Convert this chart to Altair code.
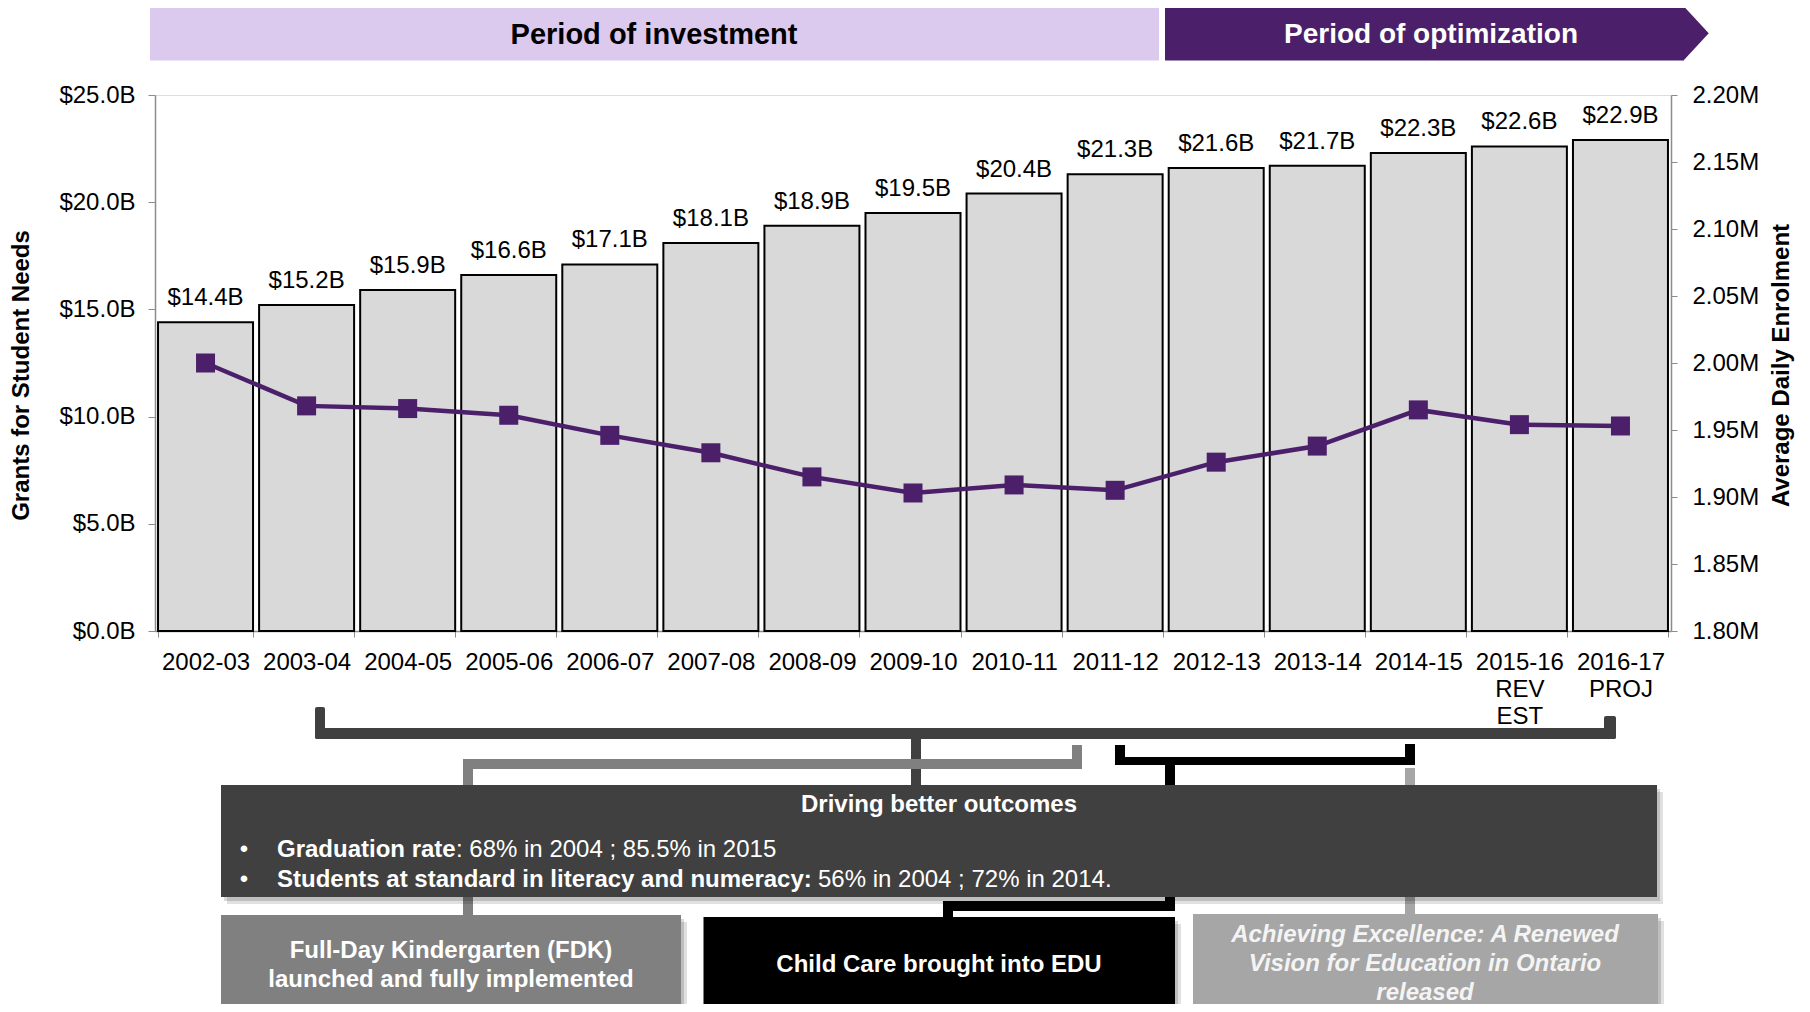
import altair as alt
import pandas as pd

# ---------------- data ----------------
years = ["2002-03", "2003-04", "2004-05", "2005-06", "2006-07", "2007-08",
         "2008-09", "2009-10", "2010-11", "2011-12", "2012-13", "2013-14",
         "2014-15", "2015-16 REV EST", "2016-17 PROJ"]
grants_b = [14.4, 15.2, 15.9, 16.6, 17.1, 18.1, 18.9, 19.5, 20.4, 21.3,
            21.6, 21.7, 22.3, 22.6, 22.9]
enrol_m = [2.000, 1.968, 1.966, 1.961, 1.946, 1.933, 1.915, 1.903, 1.909,
           1.905, 1.926, 1.938, 1.965, 1.954, 1.953]
left_ticks = [0, 5, 10, 15, 20, 25]
right_ticks = [1.80, 1.85, 1.90, 1.95, 2.00, 2.05, 2.10, 2.15, 2.20]

df = pd.DataFrame({"year": years, "grants": grants_b, "enrol": enrol_m})

FONT = "Liberation Sans"
PURPLE = "#4b1f6a"
LAVENDER = "#dcc9ee"
DARK = "#404040"
MID = "#808080"
LIGHT = "#a6a6a6"
AXIS_GRAY = "#8c8c8c"

W, H = 1516, 536

x_enc = alt.X("year:N", sort=years,
              scale=alt.Scale(paddingInner=0.06, paddingOuter=0.03),
              axis=alt.Axis(title=None, labelAngle=0,
                            labelExpr="split(datum.label, ' ')",
                            labelFontSize=24, labelColor="black",
                            labelLineHeight=27, tickBand="extent",
                            tickSize=6, labelPadding=13,
                            domainColor=AXIS_GRAY, tickColor=AXIS_GRAY,
                            domainWidth=1.5))

base = alt.Chart(df)

bars = base.mark_bar(fill="#d9d9d9", stroke="black", strokeWidth=2).encode(
    x=x_enc,
    y=alt.Y("grants:Q", scale=alt.Scale(domain=[0, 25], nice=False),
            axis=alt.Axis(values=left_ticks,
                          labelExpr="'$' + format(datum.value, '.1f') + 'B'",
                          title="Grants for Student Needs",
                          titleFontSize=24, titleFontWeight="bold",
                          titleColor="black", titleAngle=270,
                          titleX=-134, titleY=280, titleBaseline="middle",
                          titleAlign="center",
                          labelFontSize=24, labelColor="black",
                          tickSize=7, labelPadding=13,
                          domainColor=AXIS_GRAY, tickColor=AXIS_GRAY,
                          domainWidth=1.5, grid=False))
)

bar_labels = base.transform_calculate(
    lab="'$' + format(datum.grants, '.1f') + 'B'"
).mark_text(dy=-17, baseline="alphabetic", fontSize=24, color="black").encode(
    x=alt.X("year:N", sort=years),
    y=alt.Y("grants:Q"),
    text="lab:N",
)

y_right = alt.Y("enrol:Q", scale=alt.Scale(domain=[1.8, 2.2], nice=False),
                axis=alt.Axis(orient="right", values=right_ticks,
                              labelExpr="format(datum.value, '.2f') + 'M'",
                              title="Average Daily Enrolment",
                              titleFontSize=24, titleFontWeight="bold",
                              titleColor="black", titleAngle=270,
                              titleX=110, titleY=270, titleBaseline="middle",
                              titleAlign="center",
                              labelFontSize=24, labelColor="black",
                              tickSize=6, labelPadding=15,
                              domainColor=AXIS_GRAY, tickColor=AXIS_GRAY,
                              domainWidth=1.5, grid=False))

line = base.mark_line(color=PURPLE, strokeWidth=4.5).encode(
    x=alt.X("year:N", sort=years), y=y_right)
pts = base.mark_square(size=361, color=PURPLE, opacity=1).encode(
    x=alt.X("year:N", sort=years), y=alt.Y("enrol:Q"))

left = alt.layer(bars, bar_labels)
right = alt.layer(line, pts)

# ---------------- annotations (layout, pixel positions relative to plot) ----
one = pd.DataFrame({"k": [0]})


def rect(x1, x2, y1, y2, color, **kw):
    return alt.Chart(one).mark_rect(color=color, **kw).encode(
        x=alt.value(x1), x2=alt.value(x2), y=alt.value(y1), y2=alt.value(y2))


def label(txt, x, y, **kw):
    opts = dict(font=FONT, fontSize=24, align="center", baseline="middle")
    opts.update(kw)
    return alt.Chart(one).mark_text(text=txt, **opts).encode(
        x=alt.value(x), y=alt.value(y))


annots = []
# header banners
annots.append(rect(-5, 1004, -89, -34.5, LAVENDER))
annots.append(rect(1010, 1529, -89, -34.5, PURPLE))
annots.append(alt.Chart(one).mark_point(
    shape="M0,-1L0.926,0L0,1Z", filled=True, size=54.5 ** 2, fill=PURPLE,
    strokeWidth=0, opacity=1).encode(x=alt.value(1528.5), y=alt.value(-61.75)))
annots.append(label("Period of investment", 499, -60, fontSize=29,
                    fontWeight="bold", color="black"))
annots.append(label("Period of optimization", 1276, -60, fontSize=28,
                    fontWeight="bold", color="white"))

# dark bracket
annots.append(rect(160, 1461, 633, 644, DARK, cornerRadius=2))
annots.append(rect(160, 170, 612, 644, DARK, cornerRadius=2))
annots.append(rect(1449, 1461, 621, 644, DARK, cornerRadius=2))
annots.append(rect(756, 766, 640, 692, DARK))
# gray bracket
annots.append(rect(308, 927, 664, 674, MID))
annots.append(rect(917, 927, 650, 674, MID))
annots.append(rect(308, 318, 664, 822, MID))
# black bracket
annots.append(rect(960, 1260, 662, 670, "black"))
annots.append(rect(960, 970, 650, 670, "black"))
annots.append(rect(1250, 1260, 649, 670, "black"))
annots.append(rect(1010, 1020, 666, 816, "black"))
annots.append(rect(788, 1020, 806, 816, "black"))
annots.append(rect(788, 798, 806, 824, "black"))
# light gray stem
annots.append(rect(1250, 1260, 673, 821, LIGHT))

# boxes with soft shadows
for (x1, x2, y1, y2, c) in [(66, 1502, 690, 802, DARK),
                            (66, 526, 820, 930, MID),
                            (548.5, 1020, 822, 914, "black"),
                            (1038, 1503, 819, 930, LIGHT)]:
    annots.append(rect(x1 + 6, x2 + 6, y1 + 7, y2 + 7, "black", opacity=0.12))
    annots.append(rect(x1 + 3, x2 + 3, y1 + 4, y2 + 4, "black", opacity=0.15))
    annots.append(rect(x1, x2, y1, y2, c))

# box texts
annots.append(label("Driving better outcomes", 784, 710, fontWeight="bold",
                    color="white"))
annots.append(label("•", 89, 762, baseline="alphabetic", color="white"))
annots.append(label("•", 89, 792, baseline="alphabetic", color="white"))
annots.append(label("Graduation rate", 122, 762, baseline="alphabetic",
                    align="left", fontWeight="bold", color="white"))
annots.append(label(": 68% in 2004 ; 85.5% in 2015", 301, 762,
                    baseline="alphabetic", align="left", color="white"))
annots.append(label("Students at standard in literacy and numeracy:", 122, 792,
                    baseline="alphabetic", align="left", fontWeight="bold",
                    color="white"))
annots.append(label("56% in 2004 ; 72% in 2014.", 663, 792,
                    baseline="alphabetic", align="left", color="white"))
annots.append(label(["Full-Day Kindergarten (FDK)",
                     "launched and fully implemented"], 296, 856,
                    fontWeight="bold", color="white", lineHeight=29))
annots.append(label("Child Care brought into EDU", 784, 870,
                    fontWeight="bold", color="white"))
annots.append(label(["Achieving Excellence: A Renewed",
                     "Vision for Education in Ontario", "released"],
                    1270, 840, fontWeight="bold", fontStyle="italic",
                    color="#f4f4f4", lineHeight=28.8))

chart = alt.layer(left, right, *annots).resolve_scale(
    y="independent"
).properties(
    width=W, height=H,
    autosize=alt.AutoSizeParams(type="none"),
    padding={"left": 147, "top": 87, "right": 131, "bottom": 373},
).configure_view(stroke=None).configure(font=FONT)

chart.save("out.html", embed_options={"renderer": "svg", "actions": False})
